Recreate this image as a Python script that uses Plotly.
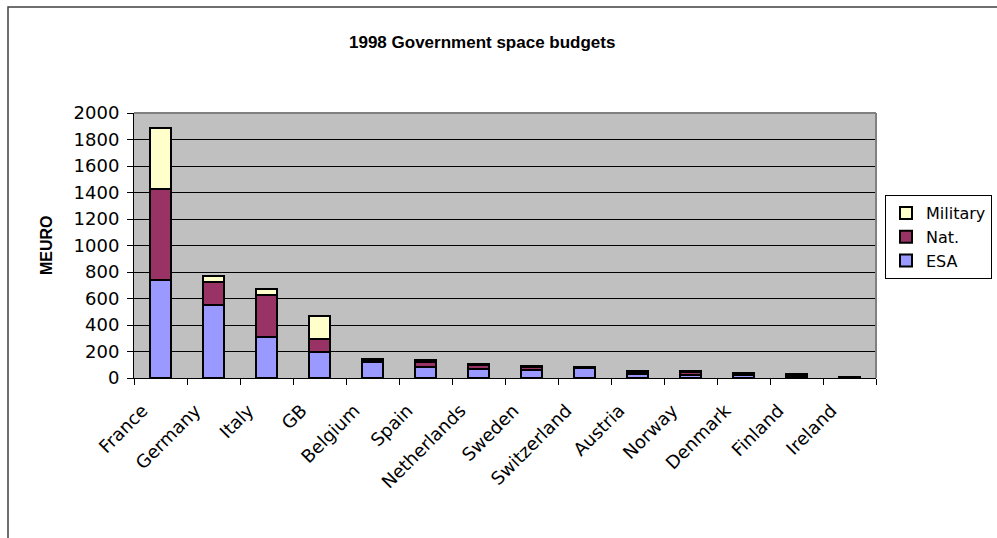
import plotly.graph_objects as go

countries = ["France", "Germany", "Italy", "GB", "Belgium", "Spain", "Netherlands",
             "Sweden", "Switzerland", "Austria", "Norway", "Denmark", "Finland", "Ireland"]
esa = [742, 548, 309, 196, 118, 85, 70, 57, 76, 30, 22, 20, 15, 7]
nat = [684, 174, 315, 96, 17, 36, 25, 23, 4, 18, 25, 14, 17, 3]
military = [461, 50, 50, 178, 5, 15, 10, 10, 0, 3, 3, 3, 2, 0]

y_ticks = [0, 200, 400, 600, 800, 1000, 1200, 1400, 1600, 1800, 2000]

W, H = 997, 538
L, R, T, B = 134, 876, 113, 378

def px_x(p):
    return (p - L) / (R - L)

def px_y(p):
    return (B - p) / (B - T)

FONT = "DejaVu Sans, Liberation Sans, Arial, sans-serif"
ARIAL = "Liberation Sans, Arial, sans-serif"

fig = go.Figure()
for name, vals, col in [("ESA", esa, "#9999FF"), ("Nat.", nat, "#993366"),
                        ("Military", military, "#FFFFCC")]:
    fig.add_trace(go.Bar(x=countries, y=vals, name=name,
                         marker=dict(color=col, line=dict(color="black", width=2))))

fig.update_layout(
    width=W, height=H,
    barmode="stack", bargap=0.6,
    paper_bgcolor="white", plot_bgcolor="#C0C0C0",
    margin=dict(l=L, r=W - R, t=T, b=H - B, autoexpand=False),
    font=dict(family=FONT, size=17, color="black"),
    showlegend=True,
    legend=dict(x=px_x(885), y=px_y(195), xanchor="left", yanchor="top",
                traceorder="reversed", bordercolor="black", borderwidth=1,
                bgcolor="white", font=dict(size=16), tracegroupgap=0,
                itemwidth=30),
    xaxis=dict(tickangle=-45, tickson="boundaries", ticks="outside", ticklen=6,
               tickcolor="black", showline=True, linecolor="black", linewidth=1,
               mirror=False, tickfont=dict(size=18),
               ticklabelstandoff=14, ticklabelshift=-18),
    yaxis=dict(range=[0, 2000], tickvals=y_ticks, ticks="outside", ticklen=6,
               tickcolor="black", showgrid=True, gridcolor="black", gridwidth=1,
               showline=True, linecolor="black", linewidth=1, zeroline=False,
               tickfont=dict(size=18), ticklabelstandoff=4),
    annotations=[
        dict(text="<b>1998 Government space budgets</b>", xref="paper", yref="paper",
             x=px_x(482), y=px_y(42), showarrow=False,
             font=dict(size=17, family=ARIAL),
             xanchor="center", yanchor="middle"),
        dict(text="<b>MEURO</b>", xref="paper", yref="paper", x=px_x(46), y=px_y(245),
             showarrow=False, textangle=-90,
             font=dict(size=16, family=ARIAL),
             xanchor="center", yanchor="middle"),
    ],
    shapes=[
        dict(type="rect", xref="paper", yref="paper", x0=px_x(8), y0=px_y(560),
             x1=px_x(1010), y1=px_y(7), line=dict(color="#404040", width=1.5),
             layer="below"),
        dict(type="line", xref="paper", yref="paper", x0=0, x1=1, y0=1, y1=1,
             line=dict(color="#808080", width=2)),
        dict(type="line", xref="paper", yref="paper", x0=1, x1=1, y0=0, y1=1,
             line=dict(color="#808080", width=2)),
    ],
)

fig.write_html("out.html")
